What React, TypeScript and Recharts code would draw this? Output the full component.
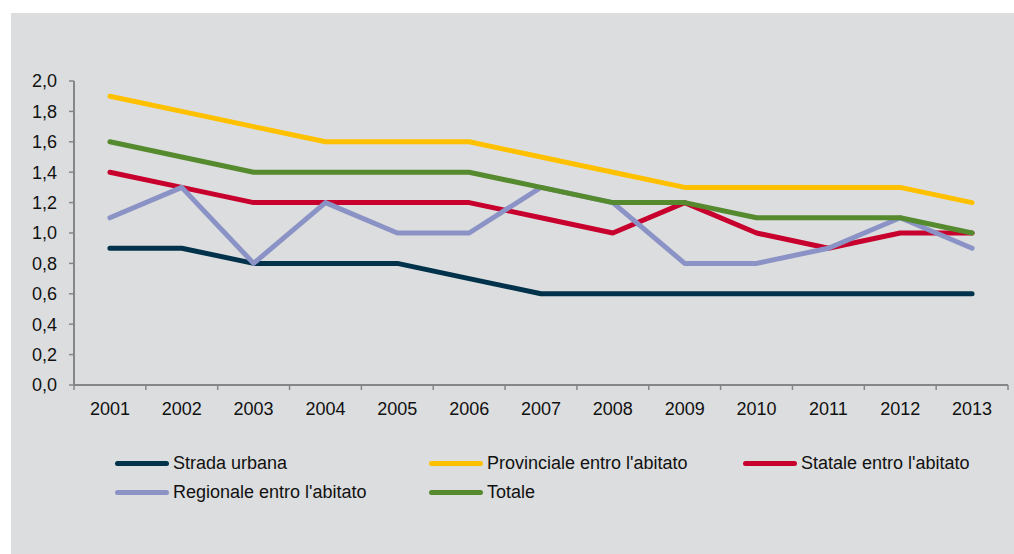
import React from 'react'
import { LineChart, Line, XAxis, YAxis } from 'recharts'

const years = ['2001', '2002', '2003', '2004', '2005', '2006', '2007', '2008', '2009', '2010', '2011', '2012', '2013']

const stradaUrbana = [0.9, 0.9, 0.8, 0.8, 0.8, 0.7, 0.6, 0.6, 0.6, 0.6, 0.6, 0.6, 0.6]
const provinciale = [1.9, 1.8, 1.7, 1.6, 1.6, 1.6, 1.5, 1.4, 1.3, 1.3, 1.3, 1.3, 1.2]
const statale = [1.4, 1.3, 1.2, 1.2, 1.2, 1.2, 1.1, 1.0, 1.2, 1.0, 0.9, 1.0, 1.0]
const regionale = [1.1, 1.3, 0.8, 1.2, 1.0, 1.0, 1.3, 1.2, 0.8, 0.8, 0.9, 1.1, 0.9]
const totale = [1.6, 1.5, 1.4, 1.4, 1.4, 1.4, 1.3, 1.2, 1.2, 1.1, 1.1, 1.1, 1.0]

const yTicks = [0, 0.2, 0.4, 0.6, 0.8, 1.0, 1.2, 1.4, 1.6, 1.8, 2.0]

const series = [
  { key: 'strada', name: 'Strada urbana', color: '#00324B', values: stradaUrbana },
  { key: 'provinciale', name: "Provinciale entro l'abitato", color: '#FFC000', values: provinciale },
  { key: 'statale', name: "Statale entro l'abitato", color: '#C8002D', values: statale },
  { key: 'regionale', name: "Regionale entro l'abitato", color: '#8B93C6', values: regionale },
  { key: 'totale', name: 'Totale', color: '#568A2E', values: totale },
]

const data = years.map((year, i) => {
  const row: Record<string, string | number> = { year }
  series.forEach(s => { row[s.key] = s.values[i] })
  return row
})

const FONT = '"Liberation Sans", Arial, sans-serif'
const AXIS = '#868686'

// year label at the band centre, tick marks on the band edges
const YearTick = (props: any) => {
  const { x, y, payload, index } = props
  const off = payload.offset || 0
  const axisY = y - 6
  return (
    <g>
      <line x1={x - off} x2={x - off} y1={axisY} y2={axisY + 5} stroke={AXIS} strokeWidth={1.5} />
      {index === years.length - 1 && (
        <line x1={x + off} x2={x + off} y1={axisY} y2={axisY + 5} stroke={AXIS} strokeWidth={1.5} />
      )}
      <text x={x} y={axisY + 29.5} textAnchor="middle" fill="#111" fontSize={18} fontFamily={FONT}>
        {payload.value}
      </text>
    </g>
  )
}

const legendCols = [104, 418, 732]
const legendRows = [450, 479]

const App = () => {
  return (
    <div style={{ position: 'absolute', left: 11, top: 13, width: 1003, height: 541, background: '#DCDDDE' }}>
      <LineChart width={1003} height={541} data={data} margin={{ top: 68, right: 6, left: 0, bottom: 139 }}>
        <XAxis
          dataKey="year"
          scale="band"
          height={30}
          stroke={AXIS}
          strokeWidth={2}
          tickLine={false}
          tickSize={6}
          tickMargin={0}
          interval={0}
          tick={<YearTick />}
        />
        <YAxis
          width={63}
          domain={[0, 2]}
          ticks={yTicks}
          interval={0}
          stroke={AXIS}
          strokeWidth={2}
          tickSize={5}
          tickMargin={12}
          tickLine={{ stroke: AXIS, strokeWidth: 1.5 }}
          tickFormatter={(v: number) => v.toFixed(1).replace('.', ',')}
          tick={{ fill: '#111', fontSize: 18, fontFamily: FONT }}
        />
        {series.map(s => (
          <Line
            key={s.key}
            dataKey={s.key}
            name={s.name}
            stroke={s.color}
            strokeWidth={5}
            strokeLinecap="round"
            strokeLinejoin="round"
            dot={false}
            activeDot={false}
            isAnimationActive={false}
          />
        ))}
      </LineChart>
      {series.map((s, i) => {
        const left = legendCols[i % 3]
        const top = legendRows[Math.floor(i / 3)]
        return (
          <div
            key={s.key}
            style={{
              position: 'absolute',
              left,
              top: top - 11,
              height: 22,
              display: 'flex',
              alignItems: 'center',
              fontFamily: FONT,
              fontSize: 18,
              color: '#111',
              whiteSpace: 'nowrap',
            }}
          >
            <span style={{ display: 'inline-block', width: 54, height: 5, borderRadius: 3, background: s.color, marginRight: 4 }} />
            <span>{s.name}</span>
          </div>
        )
      })}
    </div>
  )
}

export default App
